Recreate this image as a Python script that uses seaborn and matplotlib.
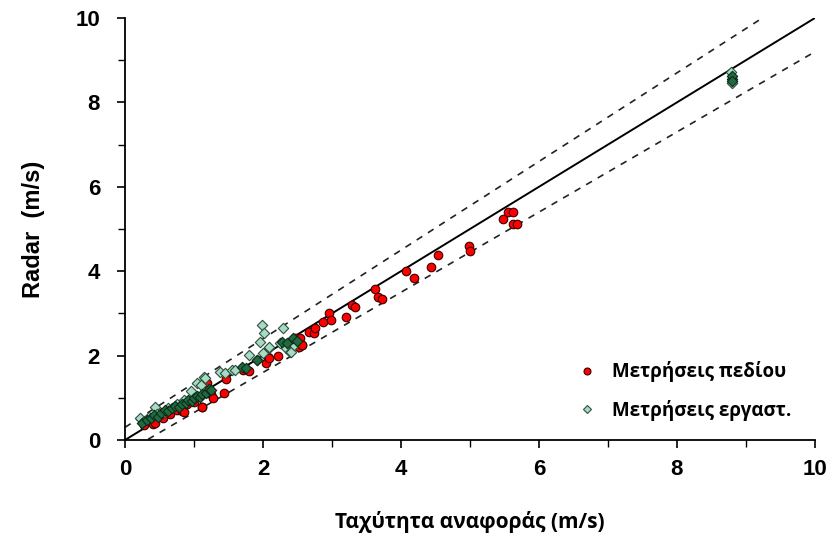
import matplotlib
matplotlib.use("Agg")
import matplotlib.pyplot as plt
import seaborn as sns
import numpy as np
import pandas as pd
from matplotlib import font_manager

# Field measurements (red circles)
field_x = [0.27, 0.41, 0.43, 0.55, 0.65, 0.75, 0.82, 0.85, 0.90, 1.00, 1.11, 1.12, 1.19, 1.25, 1.28,
           1.44, 1.46, 1.71, 1.75, 1.79, 2.05, 2.07, 2.08, 2.22, 2.46, 2.52, 2.54, 2.56, 2.57,
           2.67, 2.74, 2.75, 2.87, 2.95, 2.98, 3.21, 3.29, 3.33, 3.62, 3.67, 3.73, 4.07, 4.19,
           4.43, 4.54, 4.98, 5.00, 5.48, 5.55, 5.62, 5.62, 5.68]
field_y = [0.36, 0.38, 0.40, 0.52, 0.62, 0.72, 0.69, 0.67, 0.85, 0.90, 0.79, 0.79, 1.34, 1.10, 0.99,
           1.12, 1.44, 1.66, 1.68, 1.64, 1.83, 1.97, 1.95, 1.99, 2.41, 2.21, 2.41, 2.24, 2.25,
           2.55, 2.54, 2.65, 2.80, 3.00, 2.84, 2.91, 3.19, 3.15, 3.59, 3.40, 3.33, 4.00, 3.83,
           4.09, 4.39, 4.60, 4.49, 5.24, 5.40, 5.40, 5.13, 5.11]

# Lab measurements (diamonds) - light fill
lab_x = [0.22, 0.28, 0.35, 0.43, 0.47, 0.55, 0.62, 0.75, 0.85, 0.95, 1.04, 1.10, 1.15, 1.16,
         1.38, 1.45, 1.55, 1.59, 1.80, 1.91, 1.95, 1.98, 2.01, 2.00, 2.08, 2.09, 2.24, 2.29,
         2.33, 2.39, 2.40, 2.45, 8.78, 8.80]
lab_y = [0.51, 0.45, 0.55, 0.79, 0.62, 0.65, 0.75, 0.85, 0.95, 1.15, 1.34, 1.30, 1.49, 1.46,
         1.62, 1.58, 1.66, 1.67, 2.01, 1.90, 2.33, 2.73, 2.53, 2.05, 2.17, 2.20, 2.31, 2.65,
         2.19, 2.09, 2.09, 2.25, 8.72, 8.45]

# Lab measurements (diamonds) - dark fill
labd_x = [0.25, 0.32, 0.38, 0.42, 0.48, 0.52, 0.58, 0.63, 0.68, 0.72, 0.78, 0.82, 0.88, 0.92,
          0.97, 1.00, 1.05, 1.08, 1.12, 1.18, 1.22, 1.25, 1.69, 1.75, 1.91, 2.27, 2.35, 2.44,
          2.50, 8.80, 8.80, 8.80]
labd_y = [0.40, 0.48, 0.52, 0.60, 0.55, 0.65, 0.70, 0.68, 0.75, 0.80, 0.78, 0.85, 0.88, 0.95,
          0.92, 1.00, 1.05, 1.02, 1.10, 1.12, 1.20, 1.18, 1.74, 1.70, 1.90, 2.33, 2.30, 2.41,
          2.35, 8.55, 8.62, 8.50]

line_x = [0, 10]
upper_slope, upper_off = 1.05, 0.30
lower_slope, lower_off = 0.95, -0.30

legend_labels = ["Μετρήσεις πεδίου", "Μετρήσεις εργαστ."]

sns.set_style("white")
names = {f.name for f in font_manager.fontManager.ttflist}
narrow = "Liberation Sans Narrow" if "Liberation Sans Narrow" in names else "Liberation Sans"
plt.rcParams['font.family'] = ['Liberation Sans', 'DejaVu Sans']
plt.rcParams['text.color'] = 'black'
plt.rcParams['axes.labelcolor'] = 'black'
plt.rcParams['xtick.color'] = 'black'
plt.rcParams['ytick.color'] = 'black'

fig = plt.figure(figsize=(8.29, 5.41), dpi=100)
ax = fig.add_axes([0.1508, 0.1867, 0.8322, 0.78])

lx = np.array(line_x, dtype=float)
ax.plot(lx, lx, color="black", lw=1.4, zorder=1)
ax.plot(lx, upper_slope * lx + upper_off, color="#222222", lw=1.2, ls=(0, (4, 4)), zorder=1)
ax.plot(lx, lower_slope * lx + lower_off, color="#222222", lw=1.2, ls=(0, (4, 4)), zorder=1)

df_f = pd.DataFrame({"x": field_x, "y": field_y})
df_l = pd.DataFrame({"x": lab_x, "y": lab_y})
df_d = pd.DataFrame({"x": labd_x, "y": labd_y})

sns.scatterplot(data=df_f, x="x", y="y", ax=ax, marker="o", s=38, color="#ff0000",
                edgecolor="#3a0000", linewidth=0.8, zorder=3)
sns.scatterplot(data=df_l, x="x", y="y", ax=ax, marker="D", s=28, color="#a6dcc4",
                edgecolor="#2f4f3f", linewidth=0.8, zorder=4)
sns.scatterplot(data=df_d, x="x", y="y", ax=ax, marker="D", s=28, color="#1f6a40",
                edgecolor="#0c2a18", linewidth=0.8, zorder=4)

ax.set_xlim(0, 10)
ax.set_ylim(0, 10)
ax.set_xticks([0, 2, 4, 6, 8, 10])
ax.set_yticks([0, 2, 4, 6, 8, 10])
ax.set_xticks(np.arange(0, 11, 1), minor=True)
ax.set_yticks(np.arange(0, 11, 1), minor=True)
ax.tick_params(axis="both", which="major", direction="out", length=6, width=1.2,
               labelsize=16, colors="black")
ax.tick_params(axis="x", which="major", pad=8)
ax.tick_params(axis="y", which="major", pad=12)
ax.tick_params(axis="both", which="minor", direction="out", length=5, width=1.0)
ax.tick_params(bottom=True, left=True, which="both")
for lab in ax.get_xticklabels() + ax.get_yticklabels():
    lab.set_fontweight("bold")
    lab.set_family([narrow, "DejaVu Sans"])

for s in ["top", "right"]:
    ax.spines[s].set_visible(False)
for s in ["left", "bottom"]:
    ax.spines[s].set_color("black")
    ax.spines[s].set_linewidth(1.3)

ax.set_xlabel("Ταχύτητα αναφοράς (m/s)", fontsize=15, fontweight="bold", labelpad=22,
              family=["Open Sans", "DejaVu Sans"], color="black")
ax.set_ylabel("Radar  (m/s)", fontsize=17, fontweight="bold", labelpad=22, color="black")

from matplotlib.lines import Line2D
handles = [
    Line2D([], [], marker="o", ls="none", markersize=5, markerfacecolor="#ff0000",
           markeredgecolor="#3a0000", markeredgewidth=0.8),
    Line2D([], [], marker="D", ls="none", markersize=4.5, markerfacecolor="#a6dcc4",
           markeredgecolor="#2f4f3f", markeredgewidth=0.8),
]
leg = ax.legend(handles, legend_labels, loc="lower right", bbox_to_anchor=(0.99, 0.005),
                frameon=False, handletextpad=0.3, labelspacing=0.95,
                prop={"family": ["Open Sans", "DejaVu Sans"], "weight": "bold", "size": 13.5})
for t in leg.get_texts():
    t.set_color("black")

fig.savefig("out.png", dpi=100)
